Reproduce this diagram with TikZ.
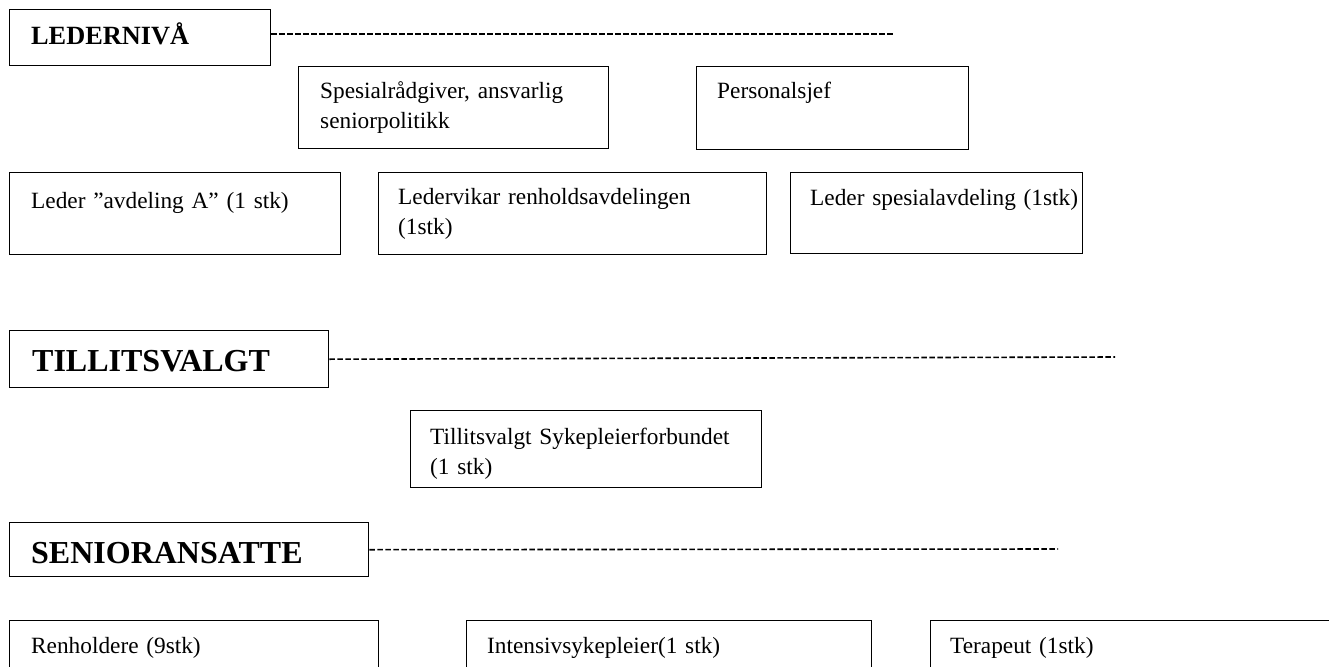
\documentclass[tikz,border=0pt]{standalone}
\usepackage{fontspec}
\setmainfont{Liberation Serif}
\tikzset{
  box/.style 2 args={draw, rectangle, line width=1.4pt, inner sep=0pt,
    anchor=north west, minimum width=#1pt, minimum height=#2pt},
  txt/.style={anchor=base west, inner sep=0pt, align=left, text width=#1pt,
    font=\fontsize{23.3}{30}\selectfont},
  txt/.default=400,
  headtxt/.style={anchor=base west, inner sep=0pt, font=\fontsize{26.3}{30}\selectfont\bfseries},
  bigheadtxt/.style={anchor=base west, inner sep=0pt, font=\fontsize{32}{36}\selectfont\bfseries},
  gap/.style={line width=1.6pt, dash pattern=on 5.5pt off 2.5pt}
}
\begin{document}
\begin{tikzpicture}[x=1pt, y=-1pt]
        \useasboundingbox (0,0) rectangle (1329,666);
        \clip (0,0) rectangle (1329,666);
        % end points of the dashed lines
        \coordinate (lederend)   at (895,34);
        \coordinate (tillitend)  at (1115,357);
        \coordinate (seniorend)  at (1058,549);
        % level boxes
        \node[box={261}{56}]  (ledernivaa)   at (9,9)     {};
        \node[box={319}{57}]  (tillitsvalgt) at (9,330)   {};
        \node[box={359}{54}]  (senior)       at (9,522)   {};
        % boxes on the leader level
        \node[box={310}{82}]  (spesial)      at (298,66)  {};
        \node[box={272}{83}]  (personal)     at (696,66)  {};
        \node[box={331}{82}]  (ledera)       at (9,172)   {};
        \node[box={388}{82}]  (vikar)        at (378,172) {};
        \node[box={292}{81}]  (spesialavd)   at (790,172) {};
        % box on the union level
        \node[box={351}{77}]  (sykepleier)   at (410,410) {};
        % boxes on the senior level
        \node[box={369}{90}]  (renholdere)   at (9,620)   {};
        \node[box={405}{90}]  (intensiv)     at (466,620) {};
        \node[box={450}{90}]  (terapeut)     at (930,620) {};
        % texts
        \node[headtxt]    (ledernivaatxt)   at ([shift={(22,36)}]ledernivaa.north west)   {LEDERNIVÅ};
        \node[bigheadtxt] (tillitsvalgttxt) at ([shift={(23,41)}]tillitsvalgt.north west) {TILLITSVALGT};
        \node[bigheadtxt] (seniortxt)       at ([shift={(22,41)}]senior.north west)       {SENIORANSATTE};
        \node[txt=280] (spesialtxt)    at ([shift={(22,33)}]spesial.north west)    {Spesialrådgiver, ansvarlig\\seniorpolitikk};
        \node[txt]     (personaltxt)   at ([shift={(21,33)}]personal.north west)   {Personalsjef};
        \node[txt]     (ledertxt)      at ([shift={(22,36)}]ledera.north west)     {Leder ”avdeling A” (1 stk)};
        \node[txt=360] (vikartxt)      at ([shift={(20,32)}]vikar.north west)      {Ledervikar renholdsavdelingen\\(1stk)};
        \node[txt]     (spesialavdtxt) at ([shift={(20,33)}]spesialavd.north west) {Leder spesialavdeling (1stk)};
        \node[txt=330] (sykepleiertxt) at ([shift={(20,34)}]sykepleier.north west) {Tillitsvalgt Sykepleierforbundet\\(1 stk)};
        \node[txt]     (renholderetxt) at ([shift={(22,33)}]renholdere.north west) {Renholdere (9stk)};
        \node[txt]     (intensivtxt)   at ([shift={(21,33)}]intensiv.north west)   {Intensivsykepleier(1 stk)};
        \node[txt]     (terapeuttxt)   at ([shift={(20,33)}]terapeut.north west)   {Terapeut (1stk)};
        % dashed lines
        \draw[gap] (ledernivaa.east |- lederend) -- (lederend);
        \draw[gap] (tillitsvalgt.east) -- (tillitend);
        \draw[gap] (senior.east) -- (seniorend);
\end{tikzpicture}
\end{document}
